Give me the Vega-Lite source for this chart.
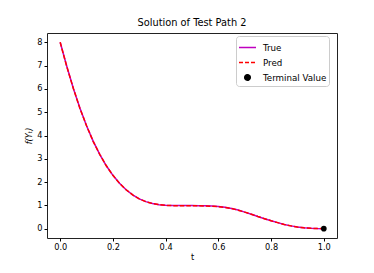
{
  "$schema": "https://vega.github.io/schema/vega-lite/v6.json",
  "width": 290,
  "height": 205,
  "autosize": {"type": "none"},
  "padding": {"left": 47, "top": 33, "right": 37, "bottom": 35},
  "background": "white",
  "title": {"text": "Solution of Test Path 2", "font": "DejaVu Sans", "fontSize": 9.8, "fontWeight": "normal", "color": "#000", "offset": 5},
  "config": {
    "view": {"stroke": "#222", "strokeWidth": 1},
    "axis": {"domain": false, "grid": false, "tickColor": "#000", "tickSize": 3, "labelFont": "DejaVu Sans", "labelFontSize": 8.2, "labelColor": "#000", "titleFont": "DejaVu Sans", "titleFontSize": 8.2, "titleFontWeight": "normal", "titleColor": "#000", "labelPadding": 2}
  },
  "data": {"values": [
    {"series": "True", "t": 0, "f": 8.0},
    {"series": "True", "t": 0.025, "f": 6.97},
    {"series": "True", "t": 0.05, "f": 6.02},
    {"series": "True", "t": 0.075, "f": 5.17},
    {"series": "True", "t": 0.1, "f": 4.42},
    {"series": "True", "t": 0.125, "f": 3.76},
    {"series": "True", "t": 0.15, "f": 3.19},
    {"series": "True", "t": 0.175, "f": 2.70},
    {"series": "True", "t": 0.2, "f": 2.29},
    {"series": "True", "t": 0.225, "f": 1.95},
    {"series": "True", "t": 0.25, "f": 1.67},
    {"series": "True", "t": 0.275, "f": 1.45},
    {"series": "True", "t": 0.3, "f": 1.28},
    {"series": "True", "t": 0.325, "f": 1.16},
    {"series": "True", "t": 0.35, "f": 1.08},
    {"series": "True", "t": 0.375, "f": 1.03},
    {"series": "True", "t": 0.4, "f": 1.01},
    {"series": "True", "t": 0.425, "f": 1.0},
    {"series": "True", "t": 0.45, "f": 0.995},
    {"series": "True", "t": 0.475, "f": 0.99},
    {"series": "True", "t": 0.5, "f": 0.99},
    {"series": "True", "t": 0.525, "f": 0.985},
    {"series": "True", "t": 0.55, "f": 0.98},
    {"series": "True", "t": 0.575, "f": 0.97},
    {"series": "True", "t": 0.6, "f": 0.95},
    {"series": "True", "t": 0.625, "f": 0.92},
    {"series": "True", "t": 0.65, "f": 0.87},
    {"series": "True", "t": 0.675, "f": 0.80},
    {"series": "True", "t": 0.7, "f": 0.71},
    {"series": "True", "t": 0.725, "f": 0.62},
    {"series": "True", "t": 0.75, "f": 0.52},
    {"series": "True", "t": 0.775, "f": 0.43},
    {"series": "True", "t": 0.8, "f": 0.34},
    {"series": "True", "t": 0.825, "f": 0.26},
    {"series": "True", "t": 0.85, "f": 0.18},
    {"series": "True", "t": 0.875, "f": 0.12},
    {"series": "True", "t": 0.9, "f": 0.07},
    {"series": "True", "t": 0.925, "f": 0.035},
    {"series": "True", "t": 0.95, "f": 0.015},
    {"series": "True", "t": 0.975, "f": 0.004},
    {"series": "True", "t": 1.0, "f": 0.0},
    {"series": "Pred", "t": 0, "f": 8.0},
    {"series": "Pred", "t": 0.025, "f": 6.96},
    {"series": "Pred", "t": 0.05, "f": 6.02},
    {"series": "Pred", "t": 0.075, "f": 5.16},
    {"series": "Pred", "t": 0.1, "f": 4.42},
    {"series": "Pred", "t": 0.125, "f": 3.75},
    {"series": "Pred", "t": 0.15, "f": 3.19},
    {"series": "Pred", "t": 0.175, "f": 2.70},
    {"series": "Pred", "t": 0.2, "f": 2.29},
    {"series": "Pred", "t": 0.225, "f": 1.95},
    {"series": "Pred", "t": 0.25, "f": 1.67},
    {"series": "Pred", "t": 0.275, "f": 1.45},
    {"series": "Pred", "t": 0.3, "f": 1.28},
    {"series": "Pred", "t": 0.325, "f": 1.16},
    {"series": "Pred", "t": 0.35, "f": 1.08},
    {"series": "Pred", "t": 0.375, "f": 1.03},
    {"series": "Pred", "t": 0.4, "f": 1.0},
    {"series": "Pred", "t": 0.425, "f": 0.99},
    {"series": "Pred", "t": 0.45, "f": 0.985},
    {"series": "Pred", "t": 0.475, "f": 0.98},
    {"series": "Pred", "t": 0.5, "f": 0.98},
    {"series": "Pred", "t": 0.525, "f": 0.98},
    {"series": "Pred", "t": 0.55, "f": 0.975},
    {"series": "Pred", "t": 0.575, "f": 0.965},
    {"series": "Pred", "t": 0.6, "f": 0.945},
    {"series": "Pred", "t": 0.625, "f": 0.915},
    {"series": "Pred", "t": 0.65, "f": 0.865},
    {"series": "Pred", "t": 0.675, "f": 0.795},
    {"series": "Pred", "t": 0.7, "f": 0.71},
    {"series": "Pred", "t": 0.725, "f": 0.62},
    {"series": "Pred", "t": 0.75, "f": 0.52},
    {"series": "Pred", "t": 0.775, "f": 0.43},
    {"series": "Pred", "t": 0.8, "f": 0.34},
    {"series": "Pred", "t": 0.825, "f": 0.26},
    {"series": "Pred", "t": 0.85, "f": 0.18},
    {"series": "Pred", "t": 0.875, "f": 0.12},
    {"series": "Pred", "t": 0.9, "f": 0.07},
    {"series": "Pred", "t": 0.925, "f": 0.035},
    {"series": "Pred", "t": 0.95, "f": 0.015},
    {"series": "Pred", "t": 0.975, "f": 0.005},
    {"series": "Pred", "t": 1.0, "f": 0.0},
    {"series": "Terminal Value", "t": 1.0, "f": 0.0}
  ]},
  "encoding": {
    "x": {"field": "t", "type": "quantitative", "scale": {"domain": [-0.05, 1.05], "nice": false, "zero": false},
      "axis": {"values": [0, 0.2, 0.4, 0.6, 0.8, 1.0], "format": ".1f", "title": "t", "titlePadding": 3}},
    "y": {"field": "f", "type": "quantitative", "scale": {"domain": [-0.4, 8.4], "nice": false, "zero": false},
      "axis": {"values": [0, 1, 2, 3, 4, 5, 6, 7, 8], "format": "d", "title": "f(Yₜ)", "titleFontStyle": "italic", "titlePadding": 3}},
    "color": {"field": "series", "type": "nominal",
      "scale": {"domain": ["True", "Pred", "Terminal Value"], "range": ["#bf00bf", "#ff0000", "#000000"]},
      "legend": {
        "orient": "none", "legendX": 189, "legendY": 3, "title": null,
        "labelFont": "DejaVu Sans", "labelFontSize": 8.7, "labelColor": "#000",
        "symbolSize": 289, "rowPadding": -5.5, "padding": 2,
        "symbolOffset": 0, "labelOffset": 6,
        "strokeColor": "#cccccc", "fillColor": "white", "cornerRadius": 3,
        "symbolStrokeWidth": 1.5,
        "encode": {"symbols": {"update": {
          "shape": {"signal": "datum.value === 'Terminal Value' ? 'circle' : 'stroke'"},
          "size": {"signal": "datum.value === 'Terminal Value' ? 30 : 289"},
          "fill": {"signal": "datum.value === 'Terminal Value' ? 'black' : 'transparent'"},
          "stroke": {"signal": "datum.value === 'True' ? '#bf00bf' : (datum.value === 'Pred' ? '#ff0000' : 'black')"},
          "strokeDash": {"signal": "datum.value === 'Pred' ? [4, 2] : [1, 0]"}
        }}}
      }}
  },
  "layer": [
    {"transform": [{"filter": "datum.series === 'True'"}], "mark": {"type": "line", "strokeWidth": 1.5}},
    {"transform": [{"filter": "datum.series === 'Pred'"}], "mark": {"type": "line", "strokeWidth": 1.5, "strokeDash": [4.5, 2]}},
    {"transform": [{"filter": "datum.series === 'Terminal Value'"}], "mark": {"type": "point", "filled": true, "opacity": 1, "size": 32, "shape": "circle"}}
  ]
}
